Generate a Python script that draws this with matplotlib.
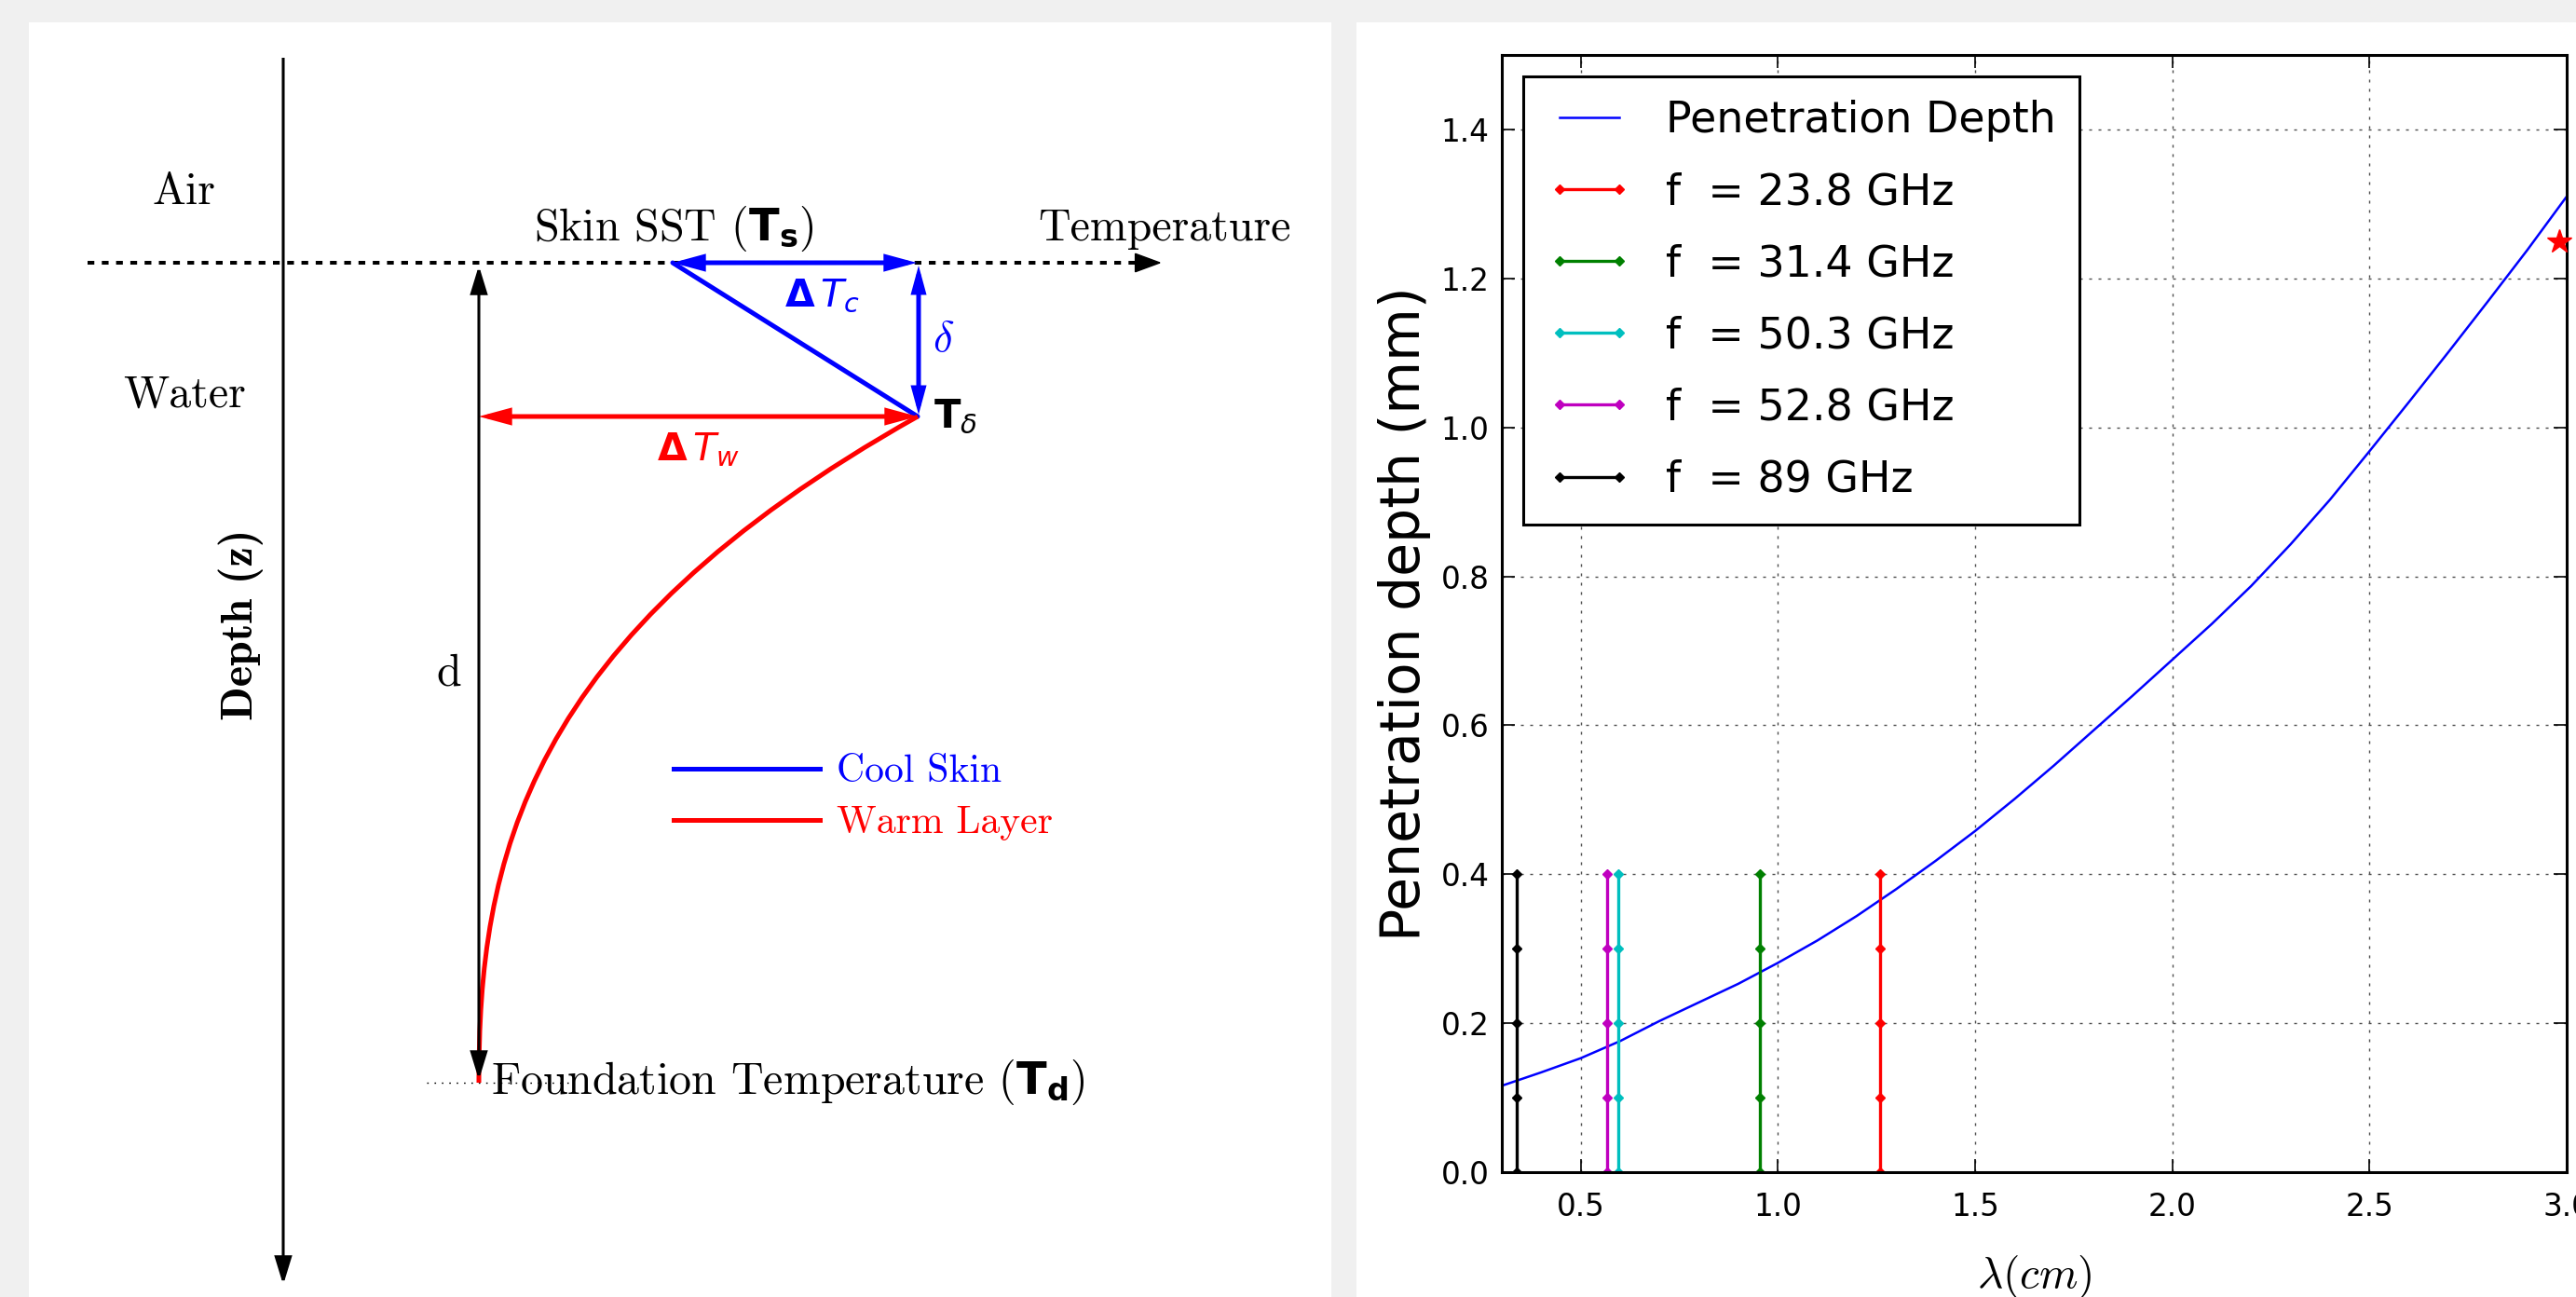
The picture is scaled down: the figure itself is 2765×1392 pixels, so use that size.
import matplotlib
matplotlib.use("Agg")
import matplotlib.pyplot as plt
from matplotlib.patches import FancyArrowPatch, PathPatch, Rectangle
from matplotlib.path import Path
from matplotlib.lines import Line2D

# ------------------------------------------------------------------ data
# right panel: penetration depth curve
wavelength_cm = [0.3, 0.4, 0.5, 0.6, 0.7, 0.8, 0.9, 1.0, 1.1, 1.2, 1.3, 1.4,
                 1.5, 1.6, 1.7, 1.8, 1.9, 2.0, 2.1, 2.2, 2.3, 2.4, 2.5, 2.6,
                 2.7, 2.8, 2.9, 3.0]
penetration_mm = [0.116, 0.134, 0.153, 0.176, 0.203, 0.228, 0.253, 0.281,
                  0.311, 0.344, 0.380, 0.418, 0.458, 0.501, 0.546, 0.593,
                  0.640, 0.688, 0.736, 0.787, 0.843, 0.903, 0.968, 1.034,
                  1.101, 1.169, 1.238, 1.310]
channel_labels = ["f  = 23.8 GHz", "f  = 31.4 GHz", "f  = 50.3 GHz",
                  "f  = 52.8 GHz", "f  = 89 GHz"]
channel_wavelength_cm = [1.26, 0.955, 0.596, 0.568, 0.337]
channel_depths_mm = [0.0, 0.1, 0.2, 0.3, 0.4]
star_wavelength_cm = [2.98]
star_depth_mm = [1.25]
x_ticks = [0.5, 1.0, 1.5, 2.0, 2.5, 3.0]
y_ticks = [0.0, 0.2, 0.4, 0.6, 0.8, 1.0, 1.2, 1.4]
channel_colors = ["r", "g", "c", "m", "k"]

# left panel: schematic key positions (pixel units of the figure)
surface_y = 282          # temperature axis / skin level
delta_y = 447            # bottom of cool skin
found_y = 1162           # foundation depth
T_s_x = 722
T_delta_x = 985
T_d_x = 514
depth_axis_x = 304

# ------------------------------------------------------------------ figure
W, H, DPI = 2765, 1392, 100
plt.rcParams["mathtext.fontset"] = "cm"
plt.rcParams["mathtext.bf"] = "DejaVu Sans:bold"
plt.rcParams["mathtext.rm"] = "cmr10"
plt.rcParams["mathtext.it"] = "cmmi10"

fig = plt.figure(figsize=(W / DPI, H / DPI), dpi=DPI, facecolor="#f0f0f0")

# full-figure axes in pixel coordinates for panels and schematic
axd = fig.add_axes([0, 0, 1, 1])
axd.set_xlim(0, W)
axd.set_ylim(H, 0)
axd.axis("off")
axd.add_patch(Rectangle((31, 24), 1429 - 31, H - 24, facecolor="white", edgecolor="none"))
axd.add_patch(Rectangle((1456, 24), W - 1456, H - 24, facecolor="white", edgecolor="none"))


def arrow(p0, p1, style, color, lw, hl, hw, zorder=3):
    st = f"{style},head_length={hl},head_width={hw}"
    a = FancyArrowPatch(p0, p1, arrowstyle=st, mutation_scale=1, color=color,
                        lw=lw, shrinkA=0, shrinkB=0, zorder=zorder,
                        joinstyle="miter", capstyle="butt")
    axd.add_patch(a)


# depth axis
arrow((depth_axis_x, 62), (depth_axis_x, 1379), "-|>", "k", 2.2, 18, 5.5)
# temperature axis (dashed) with head
axd.plot([94, 1222], [surface_y, surface_y], color="k", lw=2.9,
         ls=(0, (1.8, 2.0)), solid_capstyle="butt", dash_capstyle="butt")
arrow((1218, surface_y), (1247, surface_y), "-|>", "k", 1.0, 19, 7)

# cool skin triangle
arrow((T_s_x, surface_y), (T_delta_x - 1, surface_y), "<|-|>", "b", 3.6, 17, 4.6)
axd.plot([T_s_x, T_delta_x], [surface_y, delta_y], color="b", lw=3.6,
         solid_capstyle="round")
arrow((T_delta_x + 1, surface_y + 3), (T_delta_x + 1, delta_y - 2), "<|-|>", "b", 3.6, 14, 3.8)

# warm layer
arrow((T_d_x, delta_y), (T_delta_x, delta_y), "<|-|>", "r", 3.6, 17, 4.6)
warm = Path([(T_d_x, found_y), (T_d_x, found_y - 238), (T_d_x + 47, found_y - 477),
             (T_delta_x, delta_y)],
            [Path.MOVETO, Path.CURVE4, Path.CURVE4, Path.CURVE4])
axd.add_patch(PathPatch(warm, facecolor="none", edgecolor="r", lw=3.6, zorder=3))

# d arrow
arrow((T_d_x, surface_y + 3), (T_d_x, found_y - 3), "<|-|>", "k", 2.2, 18, 5.5, zorder=4)
axd.plot([458, 612], [found_y, found_y], color="k", lw=1.0, ls=(0, (1.2, 4.5)), zorder=2)

# texts
serif = dict(family="cmr10", fontsize=34.5, va="baseline")
axd.text(197, 219, "Air", ha="center", **serif)
axd.text(198, 437, "Water", ha="center", **serif)
axd.text(723, 258, r"Skin SST ($\mathbf{T_s}$)", ha="center",
         math_fontfamily="custom", **serif)
axd.text(1250, 258, "Temperature", ha="center", **serif)
axd.text(527, 1174, r"Foundation Temperature ($\mathbf{T_d}$)", ha="left",
         math_fontfamily="custom", **serif)
axd.text(482, 736, "d", ha="center", **serif)
axd.text(259, 670, "Depth (z)", family="cmb10", fontsize=34.5, rotation=90,
         ha="center", va="center")
axd.text(842, 328, r"$\mathbf{\Delta}\,T_c$", color="b", fontsize=29.5,
         math_fontfamily="dejavusans", ha="left", va="baseline")
axd.text(705, 494, r"$\mathbf{\Delta}\,T_w$", color="r", fontsize=29.5,
         math_fontfamily="dejavusans", ha="left", va="baseline")
axd.text(1001, 364, r"$\delta$", color="b", fontsize=34, ha="left", va="center")
axd.text(1002, 447, r"$\mathbf{T}_\delta$", color="k", fontsize=30,
         math_fontfamily="dejavusans", ha="left", va="center")

leg_d = axd.legend(handles=[Line2D([], [], color="b", lw=3.6),
                            Line2D([], [], color="r", lw=3.6)],
                   labels=["Cool Skin", "Warm Layer"],
                   prop={"family": "cmr10", "size": 30}, labelcolor="linecolor",
                   frameon=False, handlelength=3.77, handletextpad=0.43,
                   labelspacing=0.42, borderpad=0, borderaxespad=0,
                   loc="upper left", bbox_to_anchor=(723, 810),
                   bbox_transform=axd.transData)

# ------------------------------------------------------------------ right panel
ax = fig.add_axes([1612 / W, (H - 1258) / H, 1143 / W, 1199 / H])
ax.plot(wavelength_cm, penetration_mm, color="b", lw=1.8, label="Penetration Depth")
for lam, lab, col in zip(channel_wavelength_cm, channel_labels, channel_colors):
    ax.plot([lam] * len(channel_depths_mm), channel_depths_mm, color=col,
            marker="D", ms=5.5, lw=2.4, label=lab)
ax.plot(star_wavelength_cm, star_depth_mm, ls="none", marker="*", color="r",
        ms=19, clip_on=False, zorder=5)

ax.set_xlim(0.3, 3.0)
ax.set_ylim(0.0, 1.5)
ax.set_xticks(x_ticks)
ax.set_yticks(y_ticks)
ax.set_xticklabels([f"{v:.1f}" for v in x_ticks])
ax.set_yticklabels([f"{v:.1f}" for v in y_ticks])
ax.grid(True, color="0.3", lw=1.0, ls=(0, (2.2, 5)))
ax.tick_params(direction="in", length=10, width=1.2, top=True, right=True,
               labelsize=23.5)
ax.tick_params(axis="x", pad=15)
ax.tick_params(axis="y", pad=9.5)
for s in ax.spines.values():
    s.set_linewidth(2.2)
ax.set_ylabel("Penetration depth (mm)", fontsize=42, labelpad=8)
ax.set_xlabel(r"$\lambda (cm)$", fontsize=34, labelpad=24)

leg = ax.legend(loc="upper left", numpoints=2, fontsize=33, fancybox=False,
                framealpha=1, edgecolor="k", labelspacing=0.7, borderpad=0.55)
leg.get_frame().set_linewidth(2.2)

fig.savefig("out.png", dpi=DPI, facecolor=fig.get_facecolor())
